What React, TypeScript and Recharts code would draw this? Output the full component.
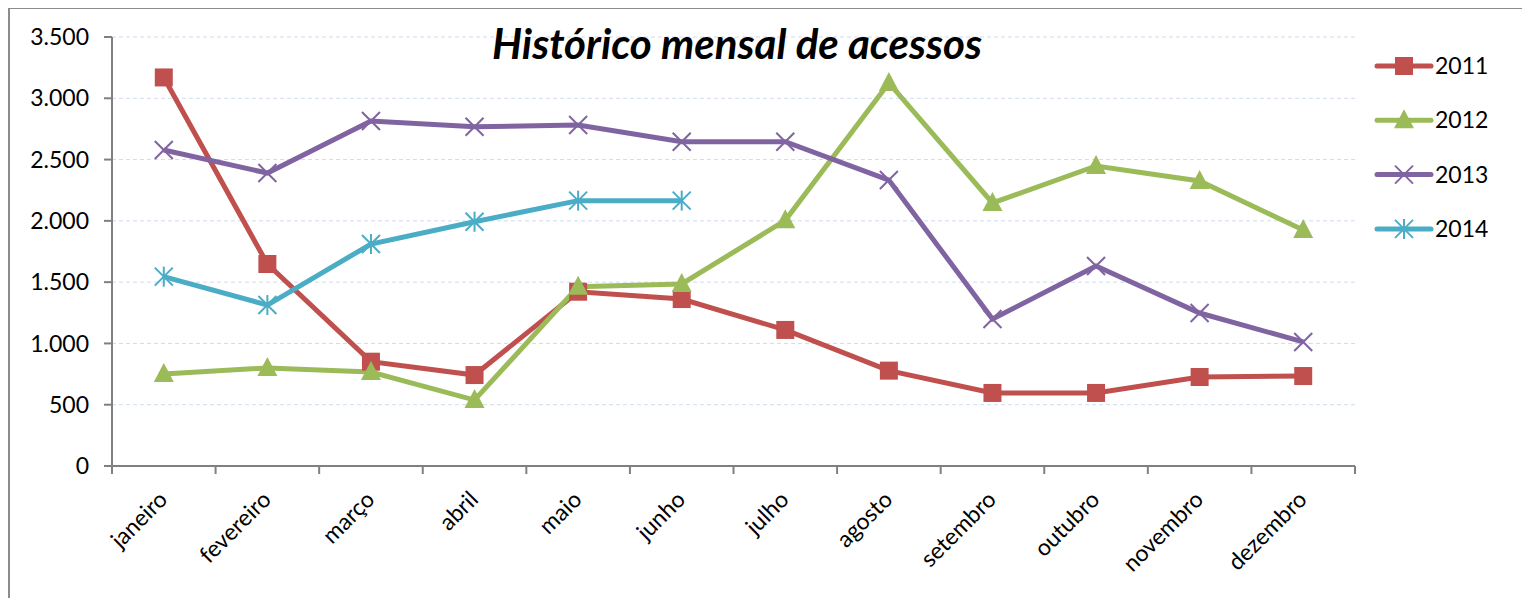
import React from "react";
import { LineChart, Line, XAxis, YAxis, CartesianGrid } from "recharts";

const months = ["janeiro", "fevereiro", "março", "abril", "maio", "junho", "julho", "agosto", "setembro", "outubro", "novembro", "dezembro"];
const s2011 = [3170, 1648, 851, 742, 1422, 1362, 1110, 778, 596, 596, 726, 734];
const s2012 = [750, 800, 767, 538, 1463, 1485, 2004, 3125, 2146, 2448, 2325, 1925];
const s2013 = [2578, 2390, 2815, 2768, 2782, 2646, 2646, 2333, 1199, 1632, 1248, 1012];
const s2014: (number | null)[] = [1545, 1313, 1811, 1993, 2165, 2165, null, null, null, null, null, null];
const yTicks = [0, 500, 1000, 1500, 2000, 2500, 3000, 3500];

const data = months.map((m, i) => ({ m, a: s2011[i], b: s2012[i], c: s2013[i], d: s2014[i] }));

const C1 = "#c0504d";
const C2 = "#9bbb59";
const C3 = "#8064a2";
const C4 = "#4bacc6";
const FONT = "Lato, 'Open Sans', sans-serif";

const W = 1520;
const H = 589;
const M = { top: 28, right: 175, bottom: 32, left: 0 };
const YW = 102;
const PLOT_W = W - M.left - M.right - YW;
const BW = PLOT_W / months.length;

const Square = ({ cx, cy }: any) =>
  cx == null || cy == null ? null : <rect x={cx - 9} y={cy - 9} width={18} height={18} fill={C1} />;
const Tri = ({ cx, cy }: any) =>
  cx == null || cy == null ? null : <polygon points={`${cx},${cy - 11} ${cx + 10},${cy + 8} ${cx - 10},${cy + 8}`} fill={C2} />;
const Cross = ({ cx, cy }: any) =>
  cx == null || cy == null ? null : (
    <g stroke={C3} strokeWidth={2}>
      <line x1={cx - 9} y1={cy - 9} x2={cx + 9} y2={cy + 9} />
      <line x1={cx - 9} y1={cy + 9} x2={cx + 9} y2={cy - 9} />
    </g>
  );
const Star = ({ cx, cy }: any) =>
  cx == null || cy == null ? null : (
    <g stroke={C4} strokeWidth={2}>
      <line x1={cx - 9} y1={cy - 9} x2={cx + 9} y2={cy + 9} />
      <line x1={cx - 9} y1={cy + 9} x2={cx + 9} y2={cy - 9} />
      <line x1={cx} y1={cy - 10} x2={cx} y2={cy + 10} />
    </g>
  );

const XTick = (props: any) => {
  const { x, y, payload, index } = props;
  const last = index === months.length - 1;
  return (
    <g>
      <line x1={x - BW / 2} y1={y} x2={x - BW / 2} y2={y + 8} stroke="#808080" strokeWidth={2} />
      {last && <line x1={x + BW / 2} y1={y} x2={x + BW / 2} y2={y + 8} stroke="#808080" strokeWidth={2} />}
      <text x={x + 5} y={y + 35} textAnchor="end" fontSize={23} fontFamily={FONT} fill="#000" transform={`rotate(-45 ${x + 5} ${y + 35})`}>
        {payload.value}
      </text>
    </g>
  );
};

const legendItems = [
  { name: "2011", color: C1, M: Square },
  { name: "2012", color: C2, M: Tri },
  { name: "2013", color: C3, M: Cross },
  { name: "2014", color: C4, M: Star },
];

const LegendBox = () => (
  <svg width={160} height={200} style={{ position: "absolute", left: 1358, top: 40 }}>
    {legendItems.map((it, i) => {
      const y = 17 + i * 54.3;
      const Mk = it.M;
      return (
        <g key={it.name}>
          <line x1={9} y1={y} x2={63} y2={y} stroke={it.color} strokeWidth={5} strokeLinecap="round" />
          <Mk cx={36} cy={y} />
          <text x={67} y={y + 8} fontSize={23} fontFamily={FONT} fill="#000">{it.name}</text>
        </g>
      );
    })}
  </svg>
);

export default function App() {
  return (
    <div style={{ marginTop: -1, width: 1522, height: 591, borderTop: "2px solid #8c8c8c", borderLeft: "2px solid #8c8c8c", boxSizing: "border-box", position: "relative", background: "#fff" }}>
      <LineChart width={W} height={H} data={data} margin={M}>
        <CartesianGrid horizontal vertical={false} stroke="#cfdcef" strokeDasharray="4 3" />
        <XAxis
          dataKey="m"
          interval={0}
          height={100}
          padding={{ left: BW / 2, right: BW / 2 }}
          tickLine={false}
          tickSize={0}
          tickMargin={0}
          tick={<XTick />}
          axisLine={{ stroke: "#808080", strokeWidth: 2 }}
        />
        <YAxis
          width={YW}
          domain={[0, 3500]}
          ticks={yTicks}
          interval={0}
          tickSize={8}
          tickMargin={15}
          tickFormatter={(v: number) => v.toLocaleString("de-DE")}
          tick={{ fontSize: 23, fontFamily: FONT, fill: "#000" }}
          tickLine={{ stroke: "#808080", strokeWidth: 2 }}
          axisLine={{ stroke: "#808080", strokeWidth: 2 }}
        />
        <Line dataKey="a" name="2011" stroke={C1} strokeWidth={5} dot={<Square />} isAnimationActive={false} />
        <Line dataKey="b" name="2012" stroke={C2} strokeWidth={5} dot={<Tri />} isAnimationActive={false} />
        <Line dataKey="c" name="2013" stroke={C3} strokeWidth={5} dot={<Cross />} isAnimationActive={false} />
        <Line dataKey="d" name="2014" stroke={C4} strokeWidth={5} dot={<Star />} isAnimationActive={false} />
      </LineChart>
      <LegendBox />
      <div style={{ position: "absolute", left: 0, top: 9, width: 1454, textAlign: "center", fontFamily: FONT, fontSize: 42, fontWeight: 700, fontStyle: "italic", color: "#000", pointerEvents: "none", whiteSpace: "nowrap" }}>
        Histórico mensal de acessos
      </div>
    </div>
  );
}
